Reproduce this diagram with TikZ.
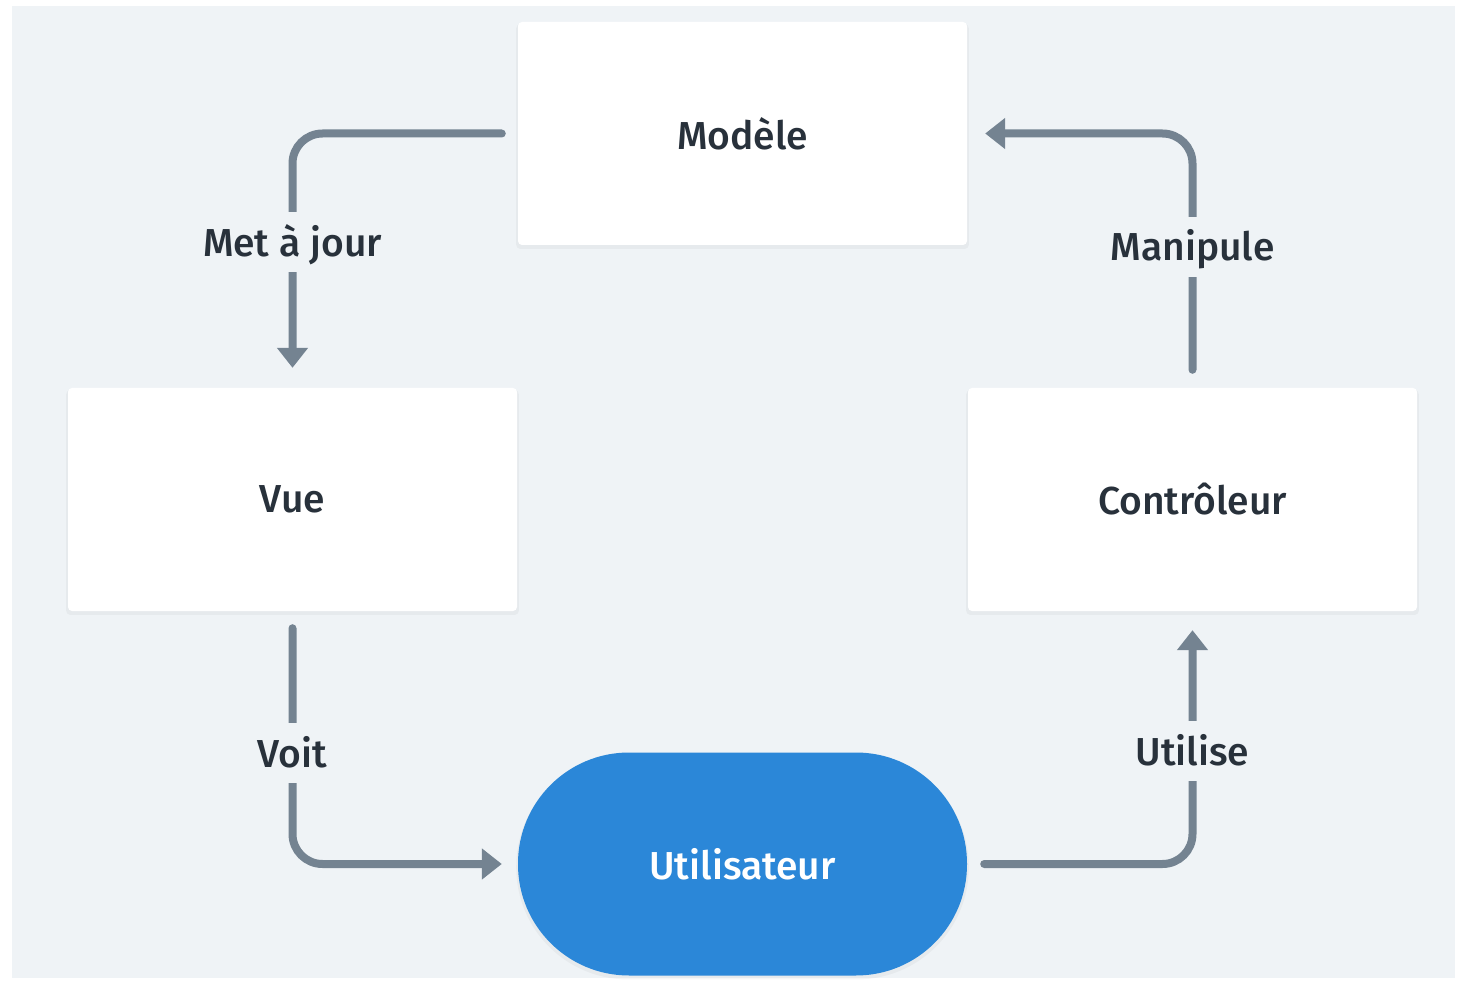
\documentclass[tikz,border=0pt]{standalone}
\usepackage{fontspec}
\setmainfont{Fira Sans}[UprightFont={* Medium}]
\usetikzlibrary{arrows.meta,shadows}
\definecolor{panelbg}{HTML}{EFF3F6}
\definecolor{linecol}{HTML}{748391}
\definecolor{txtcol}{HTML}{28313B}
\definecolor{userblue}{HTML}{2B87D8}
\tikzset{
  softshadow/.style={general shadow={fill=black, opacity=0.035, shadow xshift=0pt, shadow yshift=-3pt, shadow scale=1.008}},
  box/.style={draw=none, fill=white, rounded corners=4pt, minimum width=449pt, minimum height=223pt, inner sep=0pt, text=txtcol, font=\fontsize{39}{44}\selectfont, softshadow},
  pill/.style={draw=none, fill=userblue, rounded corners=111pt, minimum width=449pt, minimum height=223pt, inner sep=0pt, text=white, font=\fontsize{39}{44}\selectfont, softshadow},
  conn/.style={draw=linecol, line width=8pt, line cap=round, rounded corners=30pt, -{Triangle[width=30pt,length=20pt]}},
  lbl/.style={fill=panelbg, text=txtcol, inner xsep=4pt, inner ysep=12pt, text height=32pt, text depth=4pt, font=\fontsize{39}{44}\selectfont},
}
\begin{document}
\begin{tikzpicture}[x=1pt,y=-1pt]
\useasboundingbox (0,0) rectangle (1457,981);
\fill[white] (0,0) rectangle (1457,981);
\fill[panelbg] (12,6) rectangle (1455,978);
\node[box] (modele) at (742.5,133.5) {Modèle};
\node[box] (vue) at (292.5,499.5) {Vue};
\node[box] (ctrl) at (1192.5,499.5) {Contrôleur};
\node[pill] (user) at (742.5,864) {Utilisateur};
\draw[conn] ([xshift=-16pt]modele.west) -| ([yshift=20pt]vue.north);
\draw[conn] ([yshift=-17pt]vue.south) |- ([xshift=-16pt]user.west);
\draw[conn] ([xshift=17pt]user.east) -| ([yshift=-19pt]ctrl.south);
\draw[conn] ([yshift=18pt]ctrl.north) |- ([xshift=18pt]modele.east);
\node[lbl] (l1) at (292.5,242.5) {Met à jour};
\node[lbl] (l2) at (292.5,753) {Voit};
\node[lbl] (l3) at (1192.5,751) {Utilise};
\node[lbl] (l4) at (1192.5,247) {Manipule};
\end{tikzpicture}
\end{document}
